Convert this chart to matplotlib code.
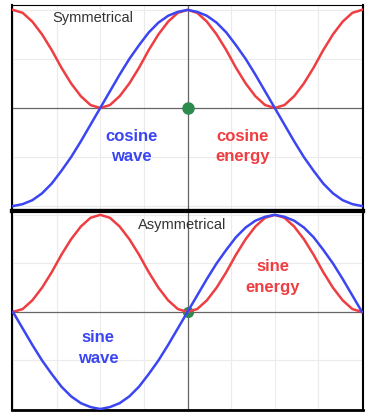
import matplotlib.pyplot as plt

# angle in degrees, sampled every 10 deg
angles = list(range(-180, 181, 10))

# values
cos_wave = [-1.00, -0.98, -0.94, -0.87, -0.77, -0.64, -0.50, -0.34, -0.17, 0.00,
            0.17, 0.34, 0.50, 0.64, 0.77, 0.87, 0.94, 0.98, 1.00, 0.98,
            0.94, 0.87, 0.77, 0.64, 0.50, 0.34, 0.17, 0.00, -0.17, -0.34,
            -0.50, -0.64, -0.77, -0.87, -0.94, -0.98, -1.00]
cos_energy = [1.00, 0.97, 0.88, 0.75, 0.59, 0.41, 0.25, 0.12, 0.03, 0.00,
              0.03, 0.12, 0.25, 0.41, 0.59, 0.75, 0.88, 0.97, 1.00, 0.97,
              0.88, 0.75, 0.59, 0.41, 0.25, 0.12, 0.03, 0.00, 0.03, 0.12,
              0.25, 0.41, 0.59, 0.75, 0.88, 0.97, 1.00]
sin_wave = [0.00, -0.17, -0.34, -0.50, -0.64, -0.77, -0.87, -0.94, -0.98, -1.00,
            -0.98, -0.94, -0.87, -0.77, -0.64, -0.50, -0.34, -0.17, 0.00, 0.17,
            0.34, 0.50, 0.64, 0.77, 0.87, 0.94, 0.98, 1.00, 0.98, 0.94,
            0.87, 0.77, 0.64, 0.50, 0.34, 0.17, 0.00]
sin_energy = [0.00, 0.03, 0.12, 0.25, 0.41, 0.59, 0.75, 0.88, 0.97, 1.00,
              0.97, 0.88, 0.75, 0.59, 0.41, 0.25, 0.12, 0.03, 0.00, 0.03,
              0.12, 0.25, 0.41, 0.59, 0.75, 0.88, 0.97, 1.00, 0.97, 0.88,
              0.75, 0.59, 0.41, 0.25, 0.12, 0.03, 0.00]

BLUE = '#3b46f2'
RED = '#ef3e42'
GREEN = '#2e8b4e'

plt.rcParams['font.family'] = ['Liberation Sans', 'DejaVu Sans']

fig = plt.figure(figsize=(3.66, 4.12), dpi=100)
ax_top = fig.add_axes([0.0328, 0.4879, 0.959, 0.5])
ax_bot = fig.add_axes([0.0328, 0.0049, 0.959, 0.483])


def setup(ax, ylim):
    ax.set_xlim(-181, 181)
    ax.set_ylim(*ylim)
    ax.set_xticks(range(-180, 181, 45))
    ax.set_yticks([-1, -0.5, 0.5, 1])
    ax.grid(True, color='#ebebeb', linewidth=0.8)
    ax.tick_params(length=0, labelbottom=False, labelleft=False)
    ax.axhline(0, color='#666666', linewidth=0.9, zorder=2)
    ax.axvline(0, color='#666666', linewidth=0.9, zorder=2)
    ax.set_axisbelow(True)


label_kw = dict(fontsize=12, fontweight='bold', ha='center', va='center',
                linespacing=1.45)

# Symmetrical: cosine
setup(ax_top, (-1.05, 1.05))
ax_top.plot(angles, cos_energy, color=RED, linewidth=1.8, zorder=3)
ax_top.plot(angles, cos_wave, color=BLUE, linewidth=1.8, zorder=3)
ax_top.plot([0], [0], 'o', color=GREEN, markersize=8, zorder=4)
ax_top.text(-139, 0.92, 'Symmetrical', color='#333333', fontsize=10.5, va='center')
ax_top.text(-58, -0.39, 'cosine\nwave', color=BLUE, **label_kw)
ax_top.text(57, -0.39, 'cosine\nenergy', color=RED, **label_kw)

# Asymmetrical: sine
setup(ax_bot, (-1.01, 1.04))
ax_bot.plot([0], [0], 'o', color=GREEN, markersize=7, zorder=2.5)
ax_bot.plot(angles, sin_energy, color=RED, linewidth=1.8, zorder=3)
ax_bot.plot(angles, sin_wave, color=BLUE, linewidth=1.8, zorder=3)
ax_bot.text(-6, 0.90, 'Asymmetrical', color='#333333', fontsize=10.5,
            ha='center', va='center')
ax_bot.text(-92, -0.37, 'sine\nwave', color=BLUE, **label_kw)
ax_bot.text(88, 0.36, 'sine\nenergy', color=RED, **label_kw)

# frame widths as in the screenshot
for ax in (ax_top, ax_bot):
    for s in ax.spines.values():
        s.set_color('black')
        s.set_linewidth(1.5)
ax_top.spines['top'].set_linewidth(0.8)
ax_top.spines['bottom'].set_linewidth(3)
ax_bot.spines['top'].set_linewidth(3)
ax_bot.spines['bottom'].set_linewidth(2)

plt.savefig('out.png', dpi=100)
